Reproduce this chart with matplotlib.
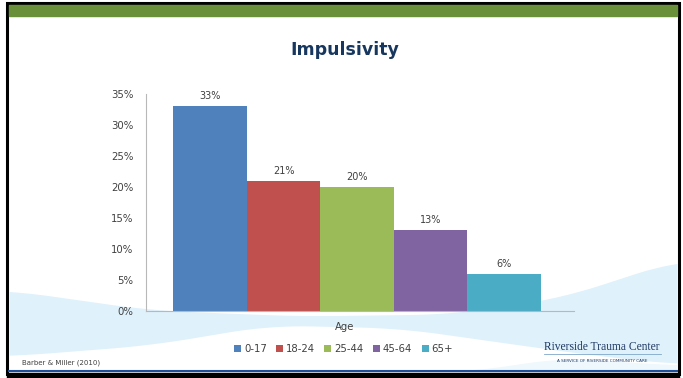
import numpy as np
import matplotlib
matplotlib.use("Agg")
import matplotlib.pyplot as plt
from matplotlib.patches import Rectangle

age_groups = ["0-17", "18-24", "25-44", "45-64", "65+"]
impulsivity = [33, 21, 20, 13, 6]
bar_colors = ["#4f81bd", "#c0504d", "#9bbb59", "#8064a2", "#4bacc6"]
y_ticks = [0, 5, 10, 15, 20, 25, 30, 35]

W, H = 683, 378
fig = plt.figure(figsize=(W / 100, H / 100), dpi=100)

# background layer in pixel coordinates (y down)
bg = fig.add_axes([0, 0, 1, 1])
bg.set_xlim(0, W)
bg.set_ylim(H, 0)
bg.axis("off")


def smooth_curve(xs, px, py, k=25):
    y = np.interp(xs, px, py)
    pad = np.pad(y, k, mode="edge")
    return np.convolve(pad, np.ones(2 * k + 1) / (2 * k + 1), mode="same")[k:-k]


# slide frame and header stripe
bg.add_patch(Rectangle((0, 0), W, H, color="white"))
bg.add_patch(Rectangle((7, 3), 672, 371, fill=False, ec="black", lw=2.2))
bg.add_patch(Rectangle((9, 5), 668, 11, color="#6a9139"))

# soft wave shapes behind the chart
xs = np.linspace(9, 677, 400)
upper = smooth_curve(xs, [9, 150, 300, 450, 560, 677], [290, 310, 316, 314, 298, 260])
lower = smooth_curve(xs, [9, 150, 270, 400, 520, 600, 677], [356, 345, 325, 328, 345, 356, 364])
bg.fill_between(xs, upper, lower, color="#dff1fb", lw=0)
xr = np.linspace(470, 677, 200)
bg.fill_between(xr, smooth_curve(xr, [470, 560, 677], [371, 358, 365], k=30), 371,
                color="#eef8fd", lw=0)

bg.plot([9, 677], [371, 371], color="#1f4e9a", lw=1.5)
bg.add_patch(Rectangle((7, 373), 672, 5, color="black"))

fig.text(0.505, 1 - 50 / H, "Impulsivity", ha="center", va="center",
         fontsize=12.5, fontweight="bold", color="#17375e")

ax = fig.add_axes([146 / W, 1 - 311 / H, (574 - 146) / W, (311 - 94) / H])
ax.patch.set_alpha(0)
x = np.arange(len(age_groups))
bars = ax.bar(x, impulsivity, width=1.0, color=bar_colors, label=age_groups)
for xi, v in zip(x, impulsivity):
    ax.text(xi, v + 0.8, f"{v}%", ha="center", va="bottom", fontsize=7, color="#404040")

ax.set_xlim(-0.87, 4.95)
ax.set_ylim(0, 35)
ax.set_yticks(y_ticks)
ax.set_yticklabels([f"{t}%" for t in y_ticks], fontsize=7.3, color="#404040")
ax.set_xticks([])
ax.tick_params(axis="y", length=0, pad=9)
for side in ["top", "right"]:
    ax.spines[side].set_visible(False)
for side in ["left", "bottom"]:
    ax.spines[side].set_color("#b8b8b8")
    ax.spines[side].set_linewidth(0.8)

fig.text(0.505, 1 - 327 / H, "Age", ha="center", va="center", fontsize=7.3, color="#404040")
fig.legend(handles=bars.patches, labels=age_groups, loc="center",
           bbox_to_anchor=(0.503, 1 - 349 / H), ncol=5, frameon=False,
           fontsize=7.3, handlelength=0.7, handleheight=0.7, handletextpad=0.3,
           columnspacing=0.9, labelcolor="#404040")

fig.text(22 / W, 1 - 363 / H, "Barber & Miller (2010)", ha="left", va="center",
         fontsize=5, color="#404040")
fig.text(602 / W, 1 - 347 / H, "Riverside Trauma Center", ha="center", va="center",
         fontsize=8.3, family="Liberation Serif", color="#1f3864")
bg.plot([544, 661], [354, 354], color="#7fa7c9", lw=0.6)
fig.text(602 / W, 1 - 361 / H, "A SERVICE OF RIVERSIDE COMMUNITY CARE", ha="center",
         va="center", fontsize=3, color="#1f3864")

fig.savefig("out.png", dpi=100)
